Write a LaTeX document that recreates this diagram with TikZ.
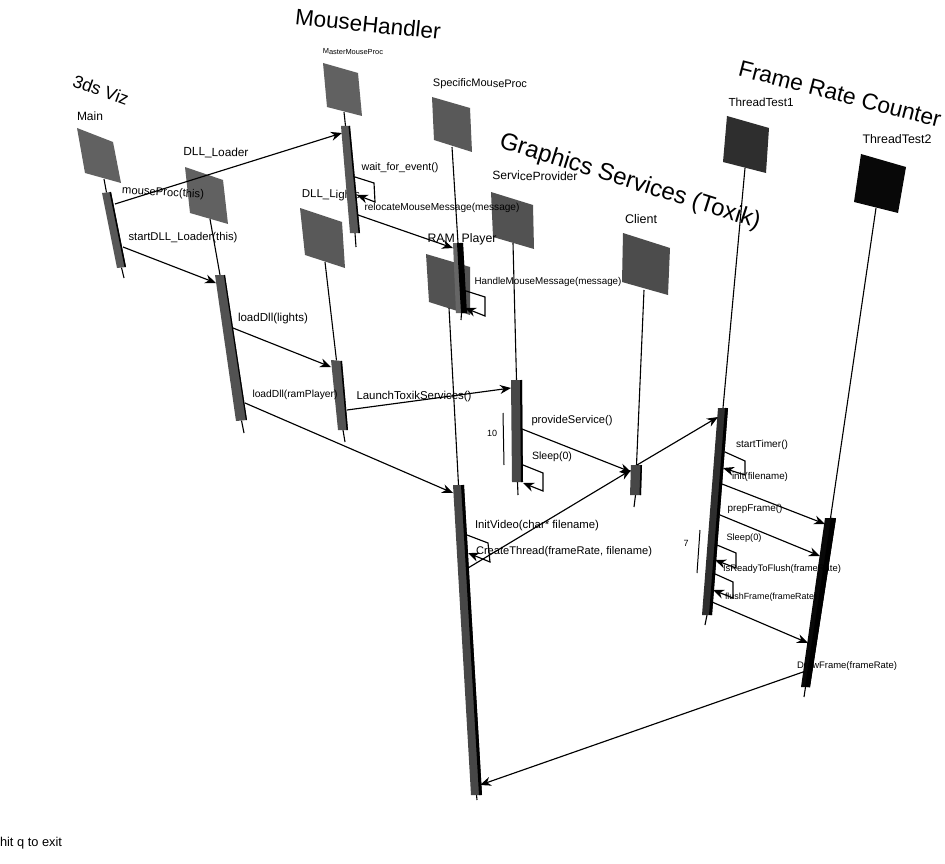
\documentclass[tikz,border=0pt]{standalone}
\usepackage{fontspec}
\setmainfont{Liberation Sans}
\usetikzlibrary{arrows.meta,calc}
\tikzset{
  msg/.style={line width=1.15pt,black,-{Stealth[length=11pt,width=9pt]}},
  lifeline/.style={line width=1.1pt,black},
  loopmark/.style={line width=1pt,black},
  lbl/.style={inner sep=0pt,outer sep=0pt,text=black},
}
% object box: name, four corners, shade
\newcommand{\objbox}[6]{%
  \coordinate (#1-a) at (#2); \coordinate (#1-b) at (#3);
  \coordinate (#1-c) at (#4); \coordinate (#1-d) at (#5);
  \fill[black!#6] (#1-a) -- (#1-b) -- (#1-c) -- (#1-d) -- cycle;}
% activation bar: name, tl, tr, br, bl, tail, lifeline start, shade, edge width
\newcommand{\actbar}[9]{%
  \coordinate (#1-a) at (#2); \coordinate (#1-b) at (#3);
  \coordinate (#1-c) at (#4); \coordinate (#1-d) at (#5);
  \coordinate (#1-tail) at (#6); \coordinate (#1-top) at (#7);
  \draw[lifeline] (#1-top) -- ($(#1-a)!.5!(#1-b)$);
  \draw[lifeline] ($(#1-c)!.5!(#1-d)$) -- (#1-tail);
  \fill[black!#8] (#1-a) -- (#1-b) -- (#1-c) -- (#1-d) -- cycle;
  \draw[black,line width=#9pt] ($(#1-b)+(-#9pt/2,0)$) -- ($(#1-c)+(-#9pt/2,0)$);}
% text fitted to a width: name, x,y, width, rotation, text
\newsavebox{\labbox}
\newdimen\labw
\newcommand{\fittext}[2]{%
  \sbox{\labbox}{\fontsize{10}{12}\selectfont #2}%
  \labw=\wd\labbox
  \pgfmathsetmacro{\labfs}{10*#1/\labw}%
  \fontsize{\labfs}{\labfs}\selectfont #2}
\newcommand{\lab}[5]{\node[lbl,rotate=#4] (#1) at (#2) {\fittext{#3}{#5}};}
\newcommand{\call}[3]{\coordinate (#1-s) at (#2); \coordinate (#1-e) at (#3);
  \draw[msg] (#1-s) -- (#1-e);}
\newcommand{\selfcall}[5]{\coordinate (#1-s) at (#2); \coordinate (#1-p) at (#3);
  \coordinate (#1-q) at (#4); \coordinate (#1-e) at (#5);
  \draw[msg] (#1-s) -- (#1-p) -- (#1-q) -- (#1-e);}
\begin{document}
\begin{tikzpicture}[x=1pt,y=-1pt]
\useasboundingbox (0,0) rectangle (945,864);
\fill[white] (0,0) rectangle (945,864);
% group titles
\lab{t3ds}{101,90}{58}{-20}{3ds Viz}
\lab{tmouse}{368,24}{146}{-6}{MouseHandler}
\lab{tgfx}{630,182}{272}{-17.5}{Graphics Services (Toxik)}
\lab{tfrc}{840,94}{208}{-14.5}{Frame Rate Counter}
% objects
\objbox{main}{77,128}{113,142}{121,183}{85,173}{62}
\objbox{loader}{185,167}{223,180}{228,224}{190,213}{62}
\objbox{lights}{300,208}{342,222}{345,268}{305,255}{65}
\objbox{master}{323,63}{358,73}{362,116}{327,107}{62}
\objbox{specific}{432,97}{470,108}{472,152}{434,140}{65}
\objbox{provider}{491,192}{533,205}{534,249}{493,237}{68}
\objbox{client}{623,233}{670,248}{668,295}{622,282}{70}
\objbox{ram}{426,254}{470,267}{470,315}{429,302}{68}
\objbox{tt1}{727,116}{769,128}{766,173}{723,162}{82}
\objbox{tt2}{861,154}{906,167}{898,213}{854,202}{97}
% object names
\lab{nmain}{90,116}{26}{0}{Main}
\lab{nloader}{216,153}{65}{-1}{DLL\_Loader}
\lab{nlights}{331,195}{58}{-1}{DLL\_Lights}
\lab{nmaster}{353,52}{60}{-1}{MasterMouseProc}
\lab{nspecific}{480,84}{94}{-1}{SpecificMouseProc}
\lab{nprovider}{535,176}{85}{-1}{ServiceProvider}
\lab{nclient}{641,219}{32}{0}{Client}
\lab{nram}{462,239}{69}{0}{RAM\_Player}
\lab{ntt1}{761,102}{65}{0}{ThreadTest1}
\lab{ntt2}{897,139}{69}{0}{ThreadTest2}
% activation bars with lifelines
\actbar{bmain}{102,193}{111,192}{126,267}{117,268}{124,278}{104,179}{66}{1.5}
\actbar{bloader}{215,275}{225,275}{247,420}{236,421}{244,433}{210,219}{68}{1.2}
\actbar{blights}{331,360}{342,361}{348,430}{338,430}{345,442}{325,262}{68}{1.5}
\actbar{bmaster}{341,126}{350,126}{360,233}{350,233}{356,247}{344,112}{66}{1.5}
\actbar{bspecific}{453,243}{463,243}{467,313}{456,313}{461,320}{452,147}{60}{6}
\actbar{bprovider}{511,380}{522,380}{523,482}{512,482}{518,495}{513,243}{72}{2}
\actbar{bclient}{631,465}{642,465}{641,495}{630,495}{634,507}{644,290}{72}{1.5}
\actbar{bram}{453,485}{464,485}{482,795}{471,795}{477,800}{449,308}{72}{3}
\actbar{btt1}{718,408}{728,408}{712,615}{702,615}{705,625}{745,168}{82}{3}
\actbar{btt2}{825,518}{836,518}{810,687}{801,687}{804,697}{876,208}{97}{5}
% messages
\call{m1}{115,204}{342,133}
\call{m2}{123,247}{216,283}
\selfcall{m3}{355,177}{374,183}{375,202}{357,195}
\call{m4}{358,215}{453,248}
\selfcall{m5}{463,290}{485,297}{485,316}{465,308}
\call{m6}{233,328}{331,367}
\call{m7}{245,403}{453,493}
\call{m8}{347,410}{511,388}
\call{m9}{522,429}{631,472}
\selfcall{m10}{523,465}{543,473}{543,491}{523,483}
\selfcall{m11}{467,535}{488,543}{490,562}{468,553}
\call{m12}{468,568}{631,470}
\call{m13}{637,465}{718,417}
\selfcall{m14}{725,452}{745,461}{745,475}{723,468}
\call{m15}{722,484}{825,524}
\call{m16}{720,515}{820,556}
\selfcall{m17}{717,545}{736,553}{736,568}{715,560}
\selfcall{m18}{713,573}{733,582}{733,598}{713,590}
\call{m19}{712,602}{808,643}
\call{m20}{803,672}{480,785}
% loop marks
\coordinate (la) at (503,413); \coordinate (lb) at (504,465);
\draw[loopmark] (la) -- (lb);
\coordinate (lc) at (700,530); \coordinate (ld) at (697,573);
\draw[loopmark] (lc) -- (ld);
\lab{l10}{492,433}{10}{0}{10}
\lab{l7}{686,543}{5}{0}{7}
% message labels
\lab{a1}{163,193}{82}{-3}{mouseProc(this)}
\lab{a2}{183,238}{109}{0}{startDLL\_Loader(this)}
\lab{a3}{400,168}{77}{0}{wait\_for\_event()}
\lab{a4}{442,208}{155}{0}{relocateMouseMessage(message)}
\lab{a5}{548,282}{147}{0}{HandleMouseMessage(message)}
\lab{a6}{273,319}{70}{0}{loadDll(lights)}
\lab{a7}{295,395}{85}{0}{loadDll(ramPlayer)}
\lab{a8}{414,397}{115}{0}{LaunchToxikServices()}
\lab{a9}{572,421}{81}{0}{provideService()}
\lab{a10}{552,457}{40}{0}{Sleep(0)}
\lab{a11}{537,526}{124}{0}{InitVideo(char* filename)}
\lab{a12}{564,552}{176}{0}{CreateThread(frameRate, filename)}
\lab{a13}{762,445}{52}{0}{startTimer()}
\lab{a14}{760,477}{56}{0}{init(filename)}
\lab{a15}{755,509}{55}{0}{prepFrame()}
\lab{a16}{744,538}{35}{0}{Sleep(0)}
\lab{a17}{782,569}{118}{0}{IsReadyToFlush(frameRate)}
\lab{a18}{771,597}{92}{0}{flushFrame(frameRate)}
\lab{a19}{847,666}{100}{0}{DrawFrame(frameRate)}
\lab{exit}{31,843}{62}{0}{hit q to exit}
\end{tikzpicture}
\end{document}
